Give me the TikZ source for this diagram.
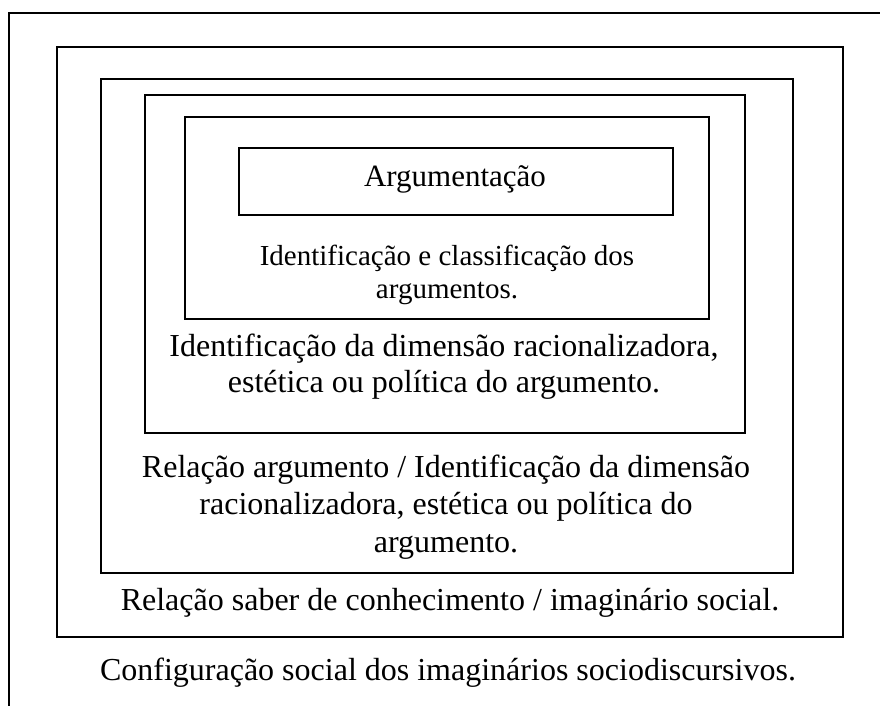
\documentclass[tikz,border=0pt]{standalone}
\usepackage{fontspec}
\setmainfont{Liberation Serif}
\usepackage{tikz}

\begin{document}
\begin{tikzpicture}[x=1pt, y=-1pt,
        frame/.style={draw=black, line width=1.3pt},
        lbl/.style={inner sep=0pt, align=center, anchor=base, font=\fontsize{32}{36}\selectfont},
        lblsmall/.style={lbl, font=\fontsize{29}{33}\selectfont},
    ]
    \useasboundingbox (0,0) rectangle (880,706);
    \clip (0,0) rectangle (880,706);

    % Nested frames
    \draw[frame] (9,13) rectangle (900,730);
    \draw[frame] (57,47) rectangle (843,637);
    \draw[frame] (101,79) rectangle (793,573);
    \draw[frame] (145,95) rectangle (745,433);
    \draw[frame] (185,117) rectangle (709,319);
    \draw[frame] (239,148) rectangle (673,215);

    % Labels (base anchor = last line)
    \node[lbl, font=\fontsize{31}{36}\selectfont] (arg) at (455,186) {Argumentação};
    \node[lblsmall] (ident) at (447,298) {Identificação e classificação dos\\argumentos.};
    \node[lbl] (dimen) at (444,392) {Identificação da dimensão racionalizadora,\\estética ou política do argumento.};
    \node[lbl, font=\fontsize{32}{37.5}\selectfont] (relarg) at (446,552) {Relação argumento / Identificação da dimensão\\racionalizadora, estética ou política do\\argumento.};
    \node[lbl] (relsab) at (450,610) {Relação saber de conhecimento / imaginário social.};
    \node[lbl] (config) at (448,680) {Configuração social dos imaginários sociodiscursivos.};

\end{tikzpicture}
\end{document}
